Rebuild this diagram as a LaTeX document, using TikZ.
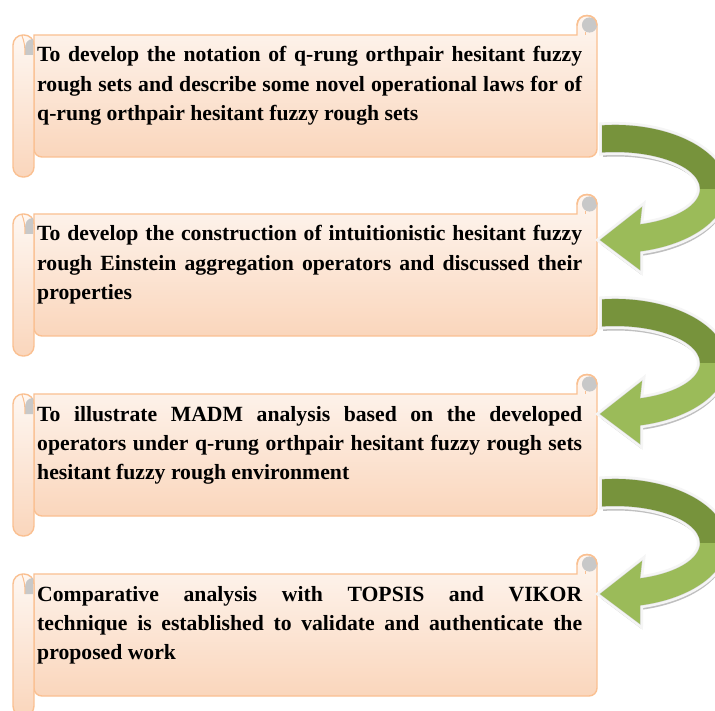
\documentclass[tikz,border=0pt]{standalone}
\usepackage{fontspec}
\setmainfont{Liberation Serif}
\definecolor{scrolltop}{RGB}{254,247,242}
\definecolor{scrollbot}{RGB}{250,214,188}
\definecolor{scrollline}{RGB}{250,192,145}
\definecolor{curlgray}{RGB}{200,200,200}
\definecolor{darkgreen}{RGB}{119,147,60}
\definecolor{lightgreen}{RGB}{155,187,89}
\hbadness=10000
\tikzset{
  scrollshape/.style={draw=scrollline, line width=1.4, top color=scrolltop, bottom color=scrollbot},
  boxtext/.style={anchor=base west, inner sep=0pt, font=\bfseries\fontsize{21.7}{29.2}\selectfont},
}
\newcommand\myscroll[1]{%
  \path[scrollshape] (34,#1) -- (577,#1) -- (577,#1-9.5)
    .. controls (577,#1-22.8) and (597,#1-22.8) .. (597,#1-9.5)
    [rounded corners=8] -- (597,#1+122) -- (34,#1+122) [sharp corners] -- cycle;
  \fill[curlgray] (589.5,#1-10) circle[radius=7.6];
  \draw[scrollline, line width=1.4] (577,#1-9.5)
    .. controls (577,#1-22.8) and (597,#1-22.8) .. (597,#1-9.5);
  \draw[scrollline, line width=1] (585,#1-3) -- (585,#1);
  \path[scrollshape, rounded corners=10] (13,#1) rectangle (34,#1+142);
  \fill[curlgray] (33,#1+4) .. controls (27,#1+4) and (25,#1+9) .. (25,#1+14)
    -- (25,#1+20) -- (33,#1+20) -- cycle;
  \draw[scrollline, line width=1] (22,#1+1) .. controls (24,#1+6) and (25,#1+10) .. (25,#1+20);
}
\newcommand\arrowpath[1]{%
  (602,125.4+#1) arc[start angle=-96.7, end angle=77.1, x radius=112, y radius=64]
  -- (640,270+#1) -- (600,240+#1) -- (642,207+#1) -- (640,224.4+#1)
  arc[start angle=72.9, end angle=-98.8, x radius=85, y radius=37] -- cycle}
\newcommand\greenarrow[1]{%
  \fill[gray!50, shift={(1,4.5)}] \arrowpath{#1};
  \draw[gray!8, line width=6, line join=miter] \arrowpath{#1};
  \draw[gray!30, line width=1] \arrowpath{#1};
  \fill[darkgreen] (602,125.4+#1) arc[start angle=-96.7, end angle=0, x radius=112, y radius=64]
    -- (700,189+#1) arc[start angle=0, end angle=-98.8, x radius=85, y radius=37] -- cycle;
  \fill[lightgreen] (727,189+#1) arc[start angle=0, end angle=77.1, x radius=112, y radius=64]
    -- (640,270+#1) -- (600,240+#1) -- (642,207+#1) -- (640,224.4+#1)
    arc[start angle=72.9, end angle=0, x radius=85, y radius=37] -- cycle;
}
\begin{document}
\begin{tikzpicture}[x=1pt,y=-1pt]
\useasboundingbox (0,0) rectangle (715,711);
\fill[white] (0,0) rectangle (715,711);
\clip (0,0) rectangle (715,711);
\myscroll{35}
\myscroll{214}
\myscroll{394}
\myscroll{574}
\node[boxtext] (t1) at (37,62) {\parbox[t]{545pt}{To develop the notation of q-rung orthpair hesitant fuzzy\linebreak rough sets and describe some novel operational laws for of\linebreak q-rung orthpair hesitant fuzzy rough sets}};
\node[boxtext] (t2) at (37,241) {\parbox[t]{545pt}{To develop the construction of intuitionistic hesitant fuzzy\linebreak rough Einstein aggregation operators and discussed their\linebreak properties}};
\node[boxtext] (t3) at (37,421) {\parbox[t]{545pt}{To illustrate MADM analysis based on the developed\linebreak operators under q-rung orthpair hesitant fuzzy rough sets\linebreak hesitant fuzzy rough environment}};
\node[boxtext] (t4) at (37,601) {\parbox[t]{545pt}{Comparative analysis with TOPSIS and VIKOR\linebreak technique is established to validate and authenticate the\linebreak proposed work}};
\greenarrow{0}
\greenarrow{174}
\greenarrow{354}
\end{tikzpicture}
\end{document}
